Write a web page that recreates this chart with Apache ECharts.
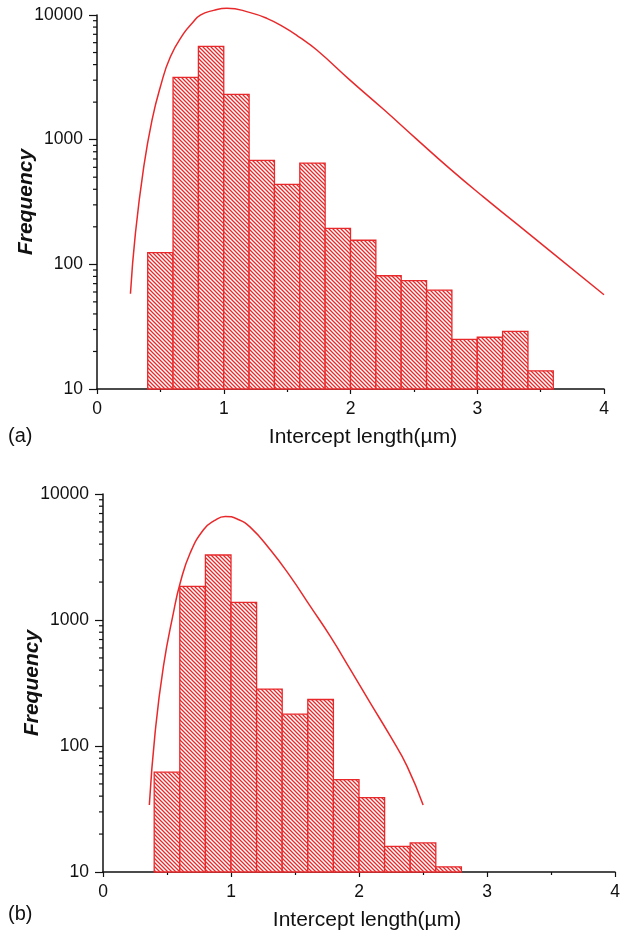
<!DOCTYPE html>
<html>
<head>
<meta charset="utf-8">
<script src="https://cdn.jsdelivr.net/npm/echarts@6/dist/echarts.min.js"></script>
<style>
  html, body { margin: 0; padding: 0; background: #fff; }
  #chart { width: 625px; height: 937px; }
</style>
</head>
<body>
<div id="chart"></div>
<script>
// histogram bins, width 0.2 um
const binWidth = 0.2
const binLeftA = [0.4, 0.6, 0.8, 1.0, 1.2, 1.4, 1.6, 1.8, 2.0, 2.2, 2.4, 2.6, 2.8, 3.0, 3.2, 3.4]
const countsA = [124, 3160, 5600, 2310, 682, 438, 649, 194, 156, 81, 74, 62, 25, 26, 29, 14]
const binLeftB = [0.4, 0.6, 0.8, 1.0, 1.2, 1.4, 1.6, 1.8, 2.0, 2.2, 2.4, 2.6]
const countsB = [62, 1850, 3280, 1380, 283, 179, 234, 54, 39, 16, 17, 11]

// fitted curves
const curveAx = [0.264, 0.303, 0.369, 0.434, 0.5, 0.579, 0.684, 0.75, 0.815, 0.92, 1.025, 1.209, 1.34, 1.471, 1.602, 1.734, 1.996, 2.258, 2.521, 2.783, 3.046, 3.309, 3.571, 4.0]
const curveAy = [58, 177, 607, 1436, 2655, 4620, 7110, 8570, 9980, 10890, 11350, 10450, 9400, 8040, 6590, 5240, 3006, 1760, 1011, 586, 349, 212, 129, 57]
const curveBx = [0.362, 0.407, 0.472, 0.55, 0.603, 0.681, 0.785, 0.869, 0.955, 1.052, 1.15, 1.307, 1.463, 1.62, 1.776, 1.933, 2.089, 2.246, 2.376, 2.501]
const curveBy = [34, 127, 428, 1138, 1967, 3400, 5210, 6140, 6640, 6310, 5460, 3610, 2218, 1282, 741, 404, 219, 119, 69, 34]

// minor ticks of the log axis
const minorTicks = [20, 30, 40, 50, 60, 70, 80, 90, 200, 300, 400, 500, 600, 700, 800, 900, 2000, 3000, 4000, 5000, 6000, 7000, 8000, 9000]

const red = '#e8292b'
const font = '"Liberation Sans", Arial, sans-serif'

// diagonal hatch pattern
function makeHatch() {
  const c = document.createElement('canvas')
  c.width = 4
  c.height = 4
  const ctx = c.getContext('2d')
  ctx.fillStyle = '#fff'
  ctx.fillRect(0, 0, 4, 4)
  ctx.strokeStyle = red
  ctx.lineWidth = 1.3
  ctx.beginPath()
  ctx.moveTo(-1, -1); ctx.lineTo(5, 5)
  ctx.moveTo(-1, 3); ctx.lineTo(1, 5)
  ctx.moveTo(3, -1); ctx.lineTo(5, 1)
  ctx.stroke()
  return c
}
const hatch = { image: makeHatch(), repeat: 'repeat' }

function xAxisCfg(idx, shift) {
  return {
    type: 'value', gridIndex: idx, min: 0, max: 4, interval: 1,
    name: 'Intercept length(µm)', nameLocation: 'middle', nameGap: 38, nameMoveOverlap: false,
    nameTextStyle: { color: '#111', fontSize: 21, fontFamily: font, padding: [0, 0, 0, shift] },
    axisLine: { lineStyle: { color: '#111', width: 1.5 } },
    axisTick: { length: 5, lineStyle: { color: '#111', width: 1.2 } },
    minorTick: { show: true, splitNumber: 2, length: 3, lineStyle: { color: '#111', width: 1.2 } },
    axisLabel: { color: '#111', fontSize: 17.5, fontFamily: font, margin: 11 },
    splitLine: { show: false }
  }
}

function yAxisCfg(idx) {
  return {
    type: 'log', logBase: 10, gridIndex: idx, min: 10, max: 10000,
    name: 'Frequency', nameLocation: 'middle', nameGap: 60, nameRotate: 90, nameMoveOverlap: false,
    nameTextStyle: { color: '#111', fontSize: 21, fontWeight: 'bold', fontStyle: 'italic', fontFamily: font },
    axisLine: { show: true, lineStyle: { color: '#111', width: 1.5 } },
    axisTick: { length: 8, lineStyle: { color: '#111', width: 1.2 } },
    axisLabel: { color: '#111', fontSize: 17.5, fontFamily: font, margin: 14, formatter: v => String(Math.round(v)) },
    splitLine: { show: false }
  }
}

function barSeries(idx, left, counts) {
  return {
    type: 'custom', xAxisIndex: idx, yAxisIndex: idx, silent: true,
    encode: { x: [0, 1], y: 2 },
    data: left.map((x0, i) => [x0, x0 + binWidth, counts[i]]),
    renderItem(params, api) {
      const tl = api.coord([api.value(0), api.value(2)])
      const br = api.coord([api.value(1), 10])
      return {
        type: 'rect',
        shape: { x: tl[0], y: tl[1], width: br[0] - tl[0], height: br[1] - tl[1] },
        style: { fill: hatch, stroke: red, lineWidth: 1.3 }
      }
    }
  }
}

function curveSeries(idx, xs, ys) {
  return {
    type: 'line', xAxisIndex: idx, yAxisIndex: idx, silent: true,
    smooth: true, symbol: 'none', clip: false, z: 5,
    lineStyle: { color: red, width: 1.5 },
    data: xs.map((x, i) => [x, ys[i]])
  }
}

function minorTickSeries(idx) {
  return {
    type: 'custom', xAxisIndex: idx, yAxisIndex: idx, silent: true, z: 6,
    encode: { x: 0, y: 1 },
    data: minorTicks.map(v => [0, v]),
    renderItem(params, api) {
      const p = api.coord([0, api.value(1)])
      return {
        type: 'line',
        shape: { x1: p[0] - 4, y1: p[1], x2: p[0], y2: p[1] },
        style: { stroke: '#111', lineWidth: 1.2 }
      }
    }
  }
}

const chart = echarts.init(document.getElementById('chart'))
chart.setOption({
  animation: false,
  backgroundColor: '#fff',
  grid: [
    { left: 97, top: 15, width: 507, height: 374, containLabel: false, outerBoundsMode: 'none' },
    { left: 103, top: 494, width: 512, height: 378, containLabel: false, outerBoundsMode: 'none' }
  ],
  xAxis: [xAxisCfg(0, 25), xAxisCfg(1, 16)],
  yAxis: [yAxisCfg(0), yAxisCfg(1)],
  graphic: [
    { type: 'text', left: 8, top: 426, style: { text: '(a)', fontSize: 20, fontFamily: font, fill: '#111' } },
    { type: 'text', left: 8, top: 904, style: { text: '(b)', fontSize: 20, fontFamily: font, fill: '#111' } }
  ],
  series: [
    barSeries(0, binLeftA, countsA),
    curveSeries(0, curveAx, curveAy),
    minorTickSeries(0),
    barSeries(1, binLeftB, countsB),
    curveSeries(1, curveBx, curveBy),
    minorTickSeries(1)
  ]
})
</script>
</body>
</html>
